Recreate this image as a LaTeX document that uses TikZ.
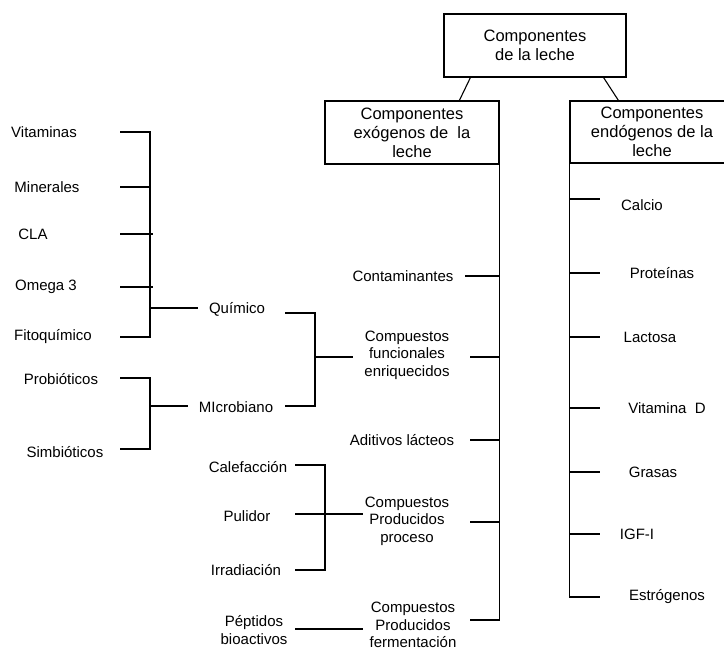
\documentclass[tikz,border=0pt]{standalone}
\usepackage{fontspec}
\setmainfont{Liberation Sans}
\tikzset{
  caja/.style={draw, line width=1.2pt, align=center, inner sep=0pt, font=\fontsize{16.5}{19}\selectfont},
  etiq/.style={align=center, inner sep=2pt, font=\fontsize{15}{17.5}\selectfont},
  linea/.style={line width=1.1pt},
}
\begin{document}
\begin{tikzpicture}[x=1pt,y=-1pt]
\useasboundingbox (0,0) rectangle (724,652);
\clip (0,0) rectangle (724,652);
% cajas
\node[caja, minimum width=182pt, minimum height=63pt] (comp) at (535,45.5) {Componentes\\de la leche};
\node[caja, minimum width=174pt, minimum height=63pt] (exo) at (412,132.5) {Componentes\\ex\'ogenos de\ \ la\\leche};
\node[caja, minimum width=164pt, minimum height=62pt] (endo) at (652,132) {Componentes\\end\'ogenos de la\\leche};
\draw[linea] ([xshift=27pt]comp.south west) -- ([xshift=135pt]exo.north west);
\draw[linea] ([xshift=-23pt]comp.south east) -- ([xshift=49pt]endo.north west);
% columna izquierda
\node[etiq] (vit) at (44,132) {Vitaminas};
\node[etiq] (min) at (47,187) {Minerales};
\node[etiq] (cla) at (33,234) {CLA};
\node[etiq] (ome) at (46,287) {Omega 3};
\node[etiq] (fito) at (53,337) {Fitoqu\'imico};
\node[etiq] (prob) at (61,379) {Probi\'oticos};
\node[etiq] (simb) at (65,452) {Simbi\'oticos};
\node[etiq] (quim) at (237,309) {Qu\'imico};
\node[etiq] (micro) at (236,407) {MIcrobiano};
\coordinate (lt) at (120,0);
\coordinate (lb) at (150,0);
\draw[linea] (vit -| lt) -- (vit -| lb) |- (fito -| lt);
\draw[linea] (min -| lt) -- (min -| lb);
\draw[linea] (cla -| lt) -- ([xshift=3pt]cla -| lb);
\draw[linea] (ome -| lt) -- ([xshift=3pt]ome -| lb);
\draw[linea] ([yshift=1pt]quim -| lb) -- ([xshift=-9pt,yshift=1pt]quim.west);
\draw[linea] ([yshift=1pt]prob -| lt) -- ([yshift=1pt]prob -| lb) |- ([yshift=3pt]simb -| lt);
\draw[linea] ([yshift=1pt]micro -| lb) -- ([xshift=-9pt,yshift=1pt]micro.west);
% quimico y microbiano
\node[etiq] (func) at (407,355) {Compuestos\\funcionales\\enriquecidos};
\coordinate (mt) at (285,0);
\coordinate (mb) at (315,0);
\draw[linea] ([yshift=-4pt]quim -| mt) -- ([yshift=-4pt]quim -| mb) |- ([yshift=1pt]micro -| mt);
\draw[linea] ([yshift=-2pt]func -| mb) -- ([xshift=-9pt,yshift=-2pt]func.west);
% procesos
\node[etiq] (cal) at (248,467) {Calefacci\'on};
\node[etiq] (pul) at (247,516) {Pulidor};
\node[etiq] (irr) at (246,570) {Irradiaci\'on};
\node[etiq] (pep) at (254,630) {P\'eptidos\\bioactivos};
\node[etiq] (proc) at (407,521) {Compuestos\\Producidos\\proceso};
\node[etiq] (ferm) at (413,625) {Compuestos\\Producidos\\fermentaci\'on};
\coordinate (ct) at (295,0);
\coordinate (cb) at (325,0);
\draw[linea] ([yshift=2pt]cal -| ct) -- ([yshift=2pt]cal -| cb) |- (irr -| ct);
\draw[linea] ([yshift=2pt]pul -| ct) -- ([yshift=2pt]pul -| proc.west);
\draw[linea] ([yshift=1pt]pep -| ct) -- ([xshift=-4pt,yshift=1pt]pep -| ferm.west);
% componentes exogenos
\node[etiq] (cont) at (403,276) {Contaminantes};
\node[etiq] (adit) at (402,440) {Aditivos l\'acteos};
\coordinate (et) at (470,0);
\draw[linea] (exo.south east) -- ([yshift=5pt]ferm -| exo.east);
\draw[linea] ([xshift=-5pt]cont -| et) -- (cont -| exo.east);
\draw[linea] ([yshift=-2pt]func -| et) -- ([yshift=-2pt]func -| exo.east);
\draw[linea] (adit -| et) -- (adit -| exo.east);
\draw[linea] ([yshift=-1pt]proc -| et) -- ([yshift=-1pt]proc -| exo.east);
\draw[linea] ([yshift=5pt]ferm -| et) -- ([yshift=5pt]ferm -| exo.east);
% componentes endogenos
\node[etiq] (calc) at (642,205) {Calcio};
\node[etiq] (prot) at (662,273) {Prote\'inas};
\node[etiq] (lact) at (650,337) {Lactosa};
\node[etiq] (vitd) at (667,408) {Vitamina\ \ D};
\node[etiq] (gras) at (653,472) {Grasas};
\node[etiq] (igf) at (637,534) {IGF-I};
\node[etiq] (estr) at (667,597) {Estr\'ogenos};
\coordinate (rt) at (600,0);
\draw[linea] (endo.south west) -- (estr -| endo.west);
\foreach \n in {prot,lact,vitd,gras,igf,estr}
  \draw[linea] (\n -| endo.west) -- (\n -| rt);
\draw[linea] ([yshift=6pt]calc -| endo.west) -- ([yshift=6pt]calc -| rt);
\end{tikzpicture}
\end{document}
